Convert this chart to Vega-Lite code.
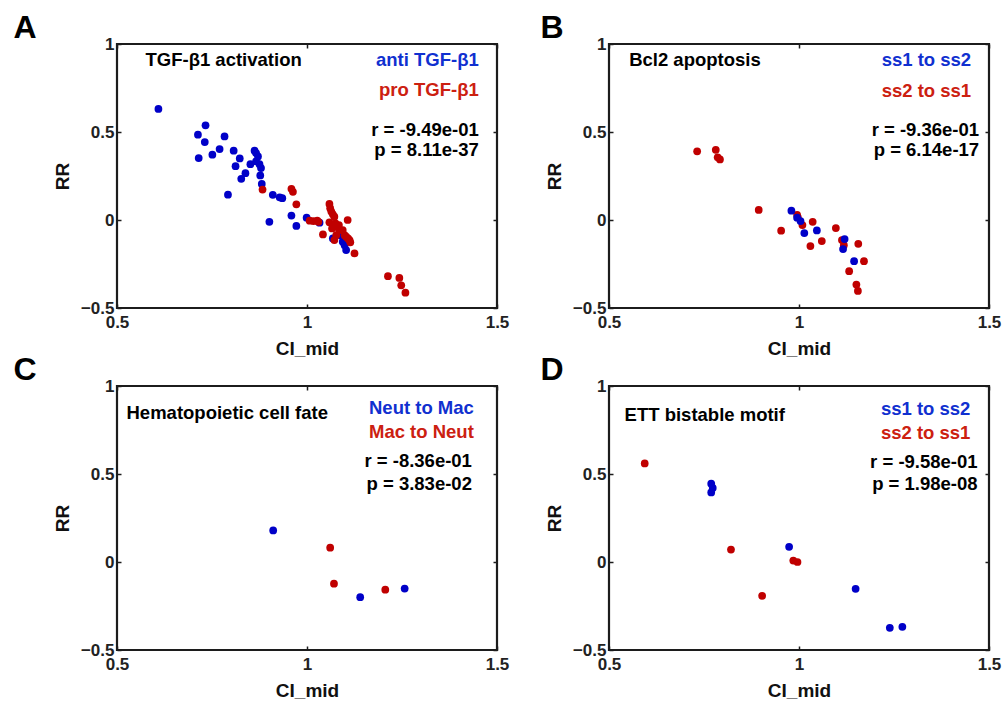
{
  "$schema": "https://vega.github.io/schema/vega-lite/v6.json",
  "padding": {"left": 12, "top": 10, "right": 2, "bottom": 2},
  "background": "white",
  "config": {
    "font": "Liberation Sans",
    "view": {"stroke": "#1c1c1c", "strokeWidth": 2.2},
    "axis": {"domain": false, "grid": false, "tickColor": "#1c1c1c", "tickWidth": 1.5, "tickSize": -4, "format": ".1~f", "labelFont": "Liberation Sans", "labelFontSize": 17, "labelFontWeight": "bold", "labelColor": "#222", "labelFlush": false, "labelOverlap": false, "titleFont": "Liberation Sans", "titleFontSize": 19, "titleFontWeight": "bold", "titleColor": "#111"},
    "axisX": {"labelPadding": 10, "titlePadding": 9},
    "axisY": {"labelPadding": 7, "titlePadding": 8},
    "text": {"font": "Liberation Sans", "fontSize": 18.5, "fontWeight": "bold"},
    "title": {"font": "Liberation Sans", "fontSize": 32, "fontWeight": "bold", "anchor": "start", "frame": "bounds", "color": "#000", "offset": -10}
  },
  "datasets": {
    "one": [{}],
    "pts": [
      {"panel":"A","dir":"anti TGF-β1","ci":0.609,"rr":0.631},
      {"panel":"A","dir":"anti TGF-β1","ci":0.713,"rr":0.485},
      {"panel":"A","dir":"anti TGF-β1","ci":0.733,"rr":0.538},
      {"panel":"A","dir":"anti TGF-β1","ci":0.731,"rr":0.443},
      {"panel":"A","dir":"anti TGF-β1","ci":0.715,"rr":0.352},
      {"panel":"A","dir":"anti TGF-β1","ci":0.751,"rr":0.371},
      {"panel":"A","dir":"anti TGF-β1","ci":0.770,"rr":0.403},
      {"panel":"A","dir":"anti TGF-β1","ci":0.783,"rr":0.475},
      {"panel":"A","dir":"anti TGF-β1","ci":0.807,"rr":0.394},
      {"panel":"A","dir":"anti TGF-β1","ci":0.823,"rr":0.350},
      {"panel":"A","dir":"anti TGF-β1","ci":0.812,"rr":0.306},
      {"panel":"A","dir":"anti TGF-β1","ci":0.792,"rr":0.144},
      {"panel":"A","dir":"anti TGF-β1","ci":0.838,"rr":0.266},
      {"panel":"A","dir":"anti TGF-β1","ci":0.827,"rr":0.234},
      {"panel":"A","dir":"anti TGF-β1","ci":0.851,"rr":0.317},
      {"panel":"A","dir":"anti TGF-β1","ci":0.862,"rr":0.394},
      {"panel":"A","dir":"anti TGF-β1","ci":0.866,"rr":0.380},
      {"panel":"A","dir":"anti TGF-β1","ci":0.871,"rr":0.361},
      {"panel":"A","dir":"anti TGF-β1","ci":0.866,"rr":0.333},
      {"panel":"A","dir":"anti TGF-β1","ci":0.875,"rr":0.317},
      {"panel":"A","dir":"anti TGF-β1","ci":0.879,"rr":0.295},
      {"panel":"A","dir":"anti TGF-β1","ci":0.877,"rr":0.253},
      {"panel":"A","dir":"anti TGF-β1","ci":0.881,"rr":0.205},
      {"panel":"A","dir":"anti TGF-β1","ci":0.910,"rr":0.143},
      {"panel":"A","dir":"anti TGF-β1","ci":0.928,"rr":0.129},
      {"panel":"A","dir":"anti TGF-β1","ci":0.935,"rr":0.124},
      {"panel":"A","dir":"anti TGF-β1","ci":0.901,"rr":-0.010},
      {"panel":"A","dir":"anti TGF-β1","ci":0.959,"rr":0.025},
      {"panel":"A","dir":"anti TGF-β1","ci":0.972,"rr":-0.034},
      {"panel":"A","dir":"anti TGF-β1","ci":0.999,"rr":0.013},
      {"panel":"A","dir":"anti TGF-β1","ci":1.033,"rr":-0.015},
      {"panel":"A","dir":"anti TGF-β1","ci":1.068,"rr":-0.105},
      {"panel":"A","dir":"anti TGF-β1","ci":1.090,"rr":-0.089},
      {"panel":"A","dir":"anti TGF-β1","ci":1.094,"rr":-0.124},
      {"panel":"A","dir":"anti TGF-β1","ci":1.099,"rr":-0.143},
      {"panel":"A","dir":"anti TGF-β1","ci":1.103,"rr":-0.171},
      {"panel":"A","dir":"pro TGF-β1","ci":0.883,"rr":0.173},
      {"panel":"A","dir":"pro TGF-β1","ci":0.959,"rr":0.177},
      {"panel":"A","dir":"pro TGF-β1","ci":0.963,"rr":0.160},
      {"panel":"A","dir":"pro TGF-β1","ci":0.972,"rr":0.089},
      {"panel":"A","dir":"pro TGF-β1","ci":1.007,"rr":-0.004},
      {"panel":"A","dir":"pro TGF-β1","ci":1.017,"rr":-0.006},
      {"panel":"A","dir":"pro TGF-β1","ci":1.027,"rr":-0.004},
      {"panel":"A","dir":"pro TGF-β1","ci":1.030,"rr":-0.010},
      {"panel":"A","dir":"pro TGF-β1","ci":1.042,"rr":-0.082},
      {"panel":"A","dir":"pro TGF-β1","ci":1.059,"rr":0.091},
      {"panel":"A","dir":"pro TGF-β1","ci":1.061,"rr":0.067},
      {"panel":"A","dir":"pro TGF-β1","ci":1.064,"rr":0.048},
      {"panel":"A","dir":"pro TGF-β1","ci":1.068,"rr":0.032},
      {"panel":"A","dir":"pro TGF-β1","ci":1.072,"rr":0.019},
      {"panel":"A","dir":"pro TGF-β1","ci":1.059,"rr":-0.013},
      {"panel":"A","dir":"pro TGF-β1","ci":1.066,"rr":-0.048},
      {"panel":"A","dir":"pro TGF-β1","ci":1.075,"rr":-0.019},
      {"panel":"A","dir":"pro TGF-β1","ci":1.078,"rr":-0.038},
      {"panel":"A","dir":"pro TGF-β1","ci":1.084,"rr":-0.029},
      {"panel":"A","dir":"pro TGF-β1","ci":1.085,"rr":-0.057},
      {"panel":"A","dir":"pro TGF-β1","ci":1.072,"rr":-0.114},
      {"panel":"A","dir":"pro TGF-β1","ci":1.077,"rr":-0.086},
      {"panel":"A","dir":"pro TGF-β1","ci":1.094,"rr":-0.057},
      {"panel":"A","dir":"pro TGF-β1","ci":1.099,"rr":-0.086},
      {"panel":"A","dir":"pro TGF-β1","ci":1.103,"rr":-0.095},
      {"panel":"A","dir":"pro TGF-β1","ci":1.107,"rr":0.000},
      {"panel":"A","dir":"pro TGF-β1","ci":1.112,"rr":-0.114},
      {"panel":"A","dir":"pro TGF-β1","ci":1.114,"rr":-0.127},
      {"panel":"A","dir":"pro TGF-β1","ci":1.108,"rr":-0.105},
      {"panel":"A","dir":"pro TGF-β1","ci":1.125,"rr":-0.190},
      {"panel":"A","dir":"pro TGF-β1","ci":1.213,"rr":-0.319},
      {"panel":"A","dir":"pro TGF-β1","ci":1.243,"rr":-0.329},
      {"panel":"A","dir":"pro TGF-β1","ci":1.248,"rr":-0.371},
      {"panel":"A","dir":"pro TGF-β1","ci":1.259,"rr":-0.413},

      {"panel":"B","dir":"ss2 to ss1","ci":0.732,"rr":0.390},
      {"panel":"B","dir":"ss2 to ss1","ci":0.781,"rr":0.399},
      {"panel":"B","dir":"ss2 to ss1","ci":0.786,"rr":0.356},
      {"panel":"B","dir":"ss2 to ss1","ci":0.792,"rr":0.344},
      {"panel":"B","dir":"ss2 to ss1","ci":0.894,"rr":0.057},
      {"panel":"B","dir":"ss2 to ss1","ci":0.953,"rr":-0.061},
      {"panel":"B","dir":"ss2 to ss1","ci":0.995,"rr":0.029},
      {"panel":"B","dir":"ss2 to ss1","ci":0.997,"rr":0.015},
      {"panel":"B","dir":"ss2 to ss1","ci":1.009,"rr":-0.029},
      {"panel":"B","dir":"ss2 to ss1","ci":1.036,"rr":-0.010},
      {"panel":"B","dir":"ss2 to ss1","ci":1.030,"rr":-0.148},
      {"panel":"B","dir":"ss2 to ss1","ci":1.060,"rr":-0.120},
      {"panel":"B","dir":"ss2 to ss1","ci":1.097,"rr":-0.046},
      {"panel":"B","dir":"ss2 to ss1","ci":1.113,"rr":-0.114},
      {"panel":"B","dir":"ss2 to ss1","ci":1.118,"rr":-0.143},
      {"panel":"B","dir":"ss2 to ss1","ci":1.156,"rr":-0.135},
      {"panel":"B","dir":"ss2 to ss1","ci":1.171,"rr":-0.234},
      {"panel":"B","dir":"ss2 to ss1","ci":1.132,"rr":-0.291},
      {"panel":"B","dir":"ss2 to ss1","ci":1.151,"rr":-0.367},
      {"panel":"B","dir":"ss2 to ss1","ci":1.155,"rr":-0.403},
      {"panel":"B","dir":"ss1 to ss2","ci":0.980,"rr":0.053},
      {"panel":"B","dir":"ss1 to ss2","ci":0.995,"rr":0.013},
      {"panel":"B","dir":"ss1 to ss2","ci":1.004,"rr":-0.006},
      {"panel":"B","dir":"ss1 to ss2","ci":1.014,"rr":-0.074},
      {"panel":"B","dir":"ss1 to ss2","ci":1.047,"rr":-0.059},
      {"panel":"B","dir":"ss1 to ss2","ci":1.120,"rr":-0.108},
      {"panel":"B","dir":"ss1 to ss2","ci":1.116,"rr":-0.165},
      {"panel":"B","dir":"ss1 to ss2","ci":1.145,"rr":-0.234},

      {"panel":"C","dir":"Neut to Mac","ci":0.911,"rr":0.179},
      {"panel":"C","dir":"Neut to Mac","ci":1.140,"rr":-0.200},
      {"panel":"C","dir":"Neut to Mac","ci":1.257,"rr":-0.151},
      {"panel":"C","dir":"Mac to Neut","ci":1.061,"rr":0.081},
      {"panel":"C","dir":"Mac to Neut","ci":1.071,"rr":-0.123},
      {"panel":"C","dir":"Mac to Neut","ci":1.206,"rr":-0.157},

      {"panel":"D","dir":"ss2 to ss1","ci":0.594,"rr":0.560},
      {"panel":"D","dir":"ss2 to ss1","ci":0.821,"rr":0.071},
      {"panel":"D","dir":"ss2 to ss1","ci":0.903,"rr":-0.192},
      {"panel":"D","dir":"ss2 to ss1","ci":0.985,"rr":0.008},
      {"panel":"D","dir":"ss2 to ss1","ci":0.996,"rr":0.000},
      {"panel":"D","dir":"ss1 to ss2","ci":0.769,"rr":0.445},
      {"panel":"D","dir":"ss1 to ss2","ci":0.773,"rr":0.421},
      {"panel":"D","dir":"ss1 to ss2","ci":0.769,"rr":0.395},
      {"panel":"D","dir":"ss1 to ss2","ci":0.974,"rr":0.086},
      {"panel":"D","dir":"ss1 to ss2","ci":1.149,"rr":-0.152},
      {"panel":"D","dir":"ss1 to ss2","ci":1.239,"rr":-0.374},
      {"panel":"D","dir":"ss1 to ss2","ci":1.272,"rr":-0.368}
    ]
  },
  "resolve": {"scale": {"color": "shared"}},
  "spacing": {"row": -8, "column": 29},
  "columns": 2,
  "concat": [
    {
      "width": 380, "height": 264,
      "title": {"text": "A", "dx": -40},
      "resolve": {"axis": {"x": "independent", "y": "independent"}},
      "layer": [
        {
          "data": {"name": "pts"},
          "transform": [{"filter": "datum.panel === 'A'"}],
          "mark": {"type": "circle", "size": 60, "opacity": 1},
          "encoding": {
            "x": {"field": "ci", "type": "quantitative", "scale": {"domain": [0.5, 1.5], "nice": false, "zero": false}, "axis": {"values": [0.5, 1, 1.5], "title": "CI_mid"}},
            "y": {"field": "rr", "type": "quantitative", "scale": {"domain": [-0.5, 1], "nice": false, "zero": false}, "axis": {"values": [-0.5, 0, 0.5, 1], "title": "RR"}},
            "color": {"field": "dir", "type": "nominal", "legend": null, "scale": {"domain": ["anti TGF-β1", "pro TGF-β1", "ss1 to ss2", "ss2 to ss1", "Neut to Mac", "Mac to Neut"], "range": ["#0000C8", "#C00000", "#0000C8", "#C00000", "#0000C8", "#C00000"]}}
          }
        },
        {
          "data": {"name": "pts"},
          "transform": [{"filter": "datum.panel === 'A'"}],
          "mark": {"type": "circle", "opacity": 0},
          "encoding": {
            "x": {"field": "ci", "type": "quantitative", "axis": {"orient": "top", "values": [0.5, 1, 1.5], "labels": false, "title": null}},
            "y": {"field": "rr", "type": "quantitative", "axis": {"orient": "right", "values": [-0.5, 0, 0.5, 1], "labels": false, "title": null}}
          }
        },
        {"data": {"name": "one"}, "mark": {"type": "text", "align": "left", "color": "#000"}, "encoding": {"x": {"datum": 0.575, "axis": null}, "y": {"datum": 0.907, "axis": null}, "text": {"value": "TGF-β1 activation"}}},
        {"data": {"name": "one"}, "mark": {"type": "text", "align": "right", "color": "#1030D0"}, "encoding": {"x": {"datum": 1.452, "axis": null}, "y": {"datum": 0.907, "axis": null}, "text": {"value": "anti TGF-β1"}}},
        {"data": {"name": "one"}, "mark": {"type": "text", "align": "right", "color": "#CC2010"}, "encoding": {"x": {"datum": 1.452, "axis": null}, "y": {"datum": 0.736, "axis": null}, "text": {"value": "pro TGF-β1"}}},
        {"data": {"name": "one"}, "mark": {"type": "text", "align": "right", "color": "#000"}, "encoding": {"x": {"datum": 1.452, "axis": null}, "y": {"datum": 0.513, "axis": null}, "text": {"value": "r = -9.49e-01"}}},
        {"data": {"name": "one"}, "mark": {"type": "text", "align": "right", "color": "#000"}, "encoding": {"x": {"datum": 1.452, "axis": null}, "y": {"datum": 0.399, "axis": null}, "text": {"value": "p = 8.11e-37"}}}
      ]
    },
    {
      "width": 380, "height": 264,
      "title": {"text": "B", "dx": -5},
      "resolve": {"axis": {"x": "independent", "y": "independent"}},
      "layer": [
        {
          "data": {"name": "pts"},
          "transform": [{"filter": "datum.panel === 'B'"}],
          "mark": {"type": "circle", "size": 60, "opacity": 1},
          "encoding": {
            "x": {"field": "ci", "type": "quantitative", "scale": {"domain": [0.5, 1.5], "nice": false, "zero": false}, "axis": {"values": [0.5, 1, 1.5], "title": "CI_mid"}},
            "y": {"field": "rr", "type": "quantitative", "scale": {"domain": [-0.5, 1], "nice": false, "zero": false}, "axis": {"values": [-0.5, 0, 0.5, 1], "title": "RR"}},
            "color": {"field": "dir", "type": "nominal", "legend": null}
          }
        },
        {
          "data": {"name": "pts"},
          "transform": [{"filter": "datum.panel === 'B'"}],
          "mark": {"type": "circle", "opacity": 0},
          "encoding": {
            "x": {"field": "ci", "type": "quantitative", "axis": {"orient": "top", "values": [0.5, 1, 1.5], "labels": false, "title": null}},
            "y": {"field": "rr", "type": "quantitative", "axis": {"orient": "right", "values": [-0.5, 0, 0.5, 1], "labels": false, "title": null}}
          }
        },
        {"data": {"name": "one"}, "mark": {"type": "text", "align": "left", "color": "#000"}, "encoding": {"x": {"datum": 0.553, "axis": null}, "y": {"datum": 0.907, "axis": null}, "text": {"value": "Bcl2 apoptosis"}}},
        {"data": {"name": "one"}, "mark": {"type": "text", "align": "right", "color": "#1030D0"}, "encoding": {"x": {"datum": 1.453, "axis": null}, "y": {"datum": 0.907, "axis": null}, "text": {"value": "ss1 to ss2"}}},
        {"data": {"name": "one"}, "mark": {"type": "text", "align": "right", "color": "#CC2010"}, "encoding": {"x": {"datum": 1.453, "axis": null}, "y": {"datum": 0.732, "axis": null}, "text": {"value": "ss2 to ss1"}}},
        {"data": {"name": "one"}, "mark": {"type": "text", "align": "right", "color": "#000"}, "encoding": {"x": {"datum": 1.474, "axis": null}, "y": {"datum": 0.513, "axis": null}, "text": {"value": "r = -9.36e-01"}}},
        {"data": {"name": "one"}, "mark": {"type": "text", "align": "right", "color": "#000"}, "encoding": {"x": {"datum": 1.474, "axis": null}, "y": {"datum": 0.399, "axis": null}, "text": {"value": "p = 6.14e-17"}}}
      ]
    },
    {
      "width": 380, "height": 264,
      "title": {"text": "C", "dx": -40},
      "resolve": {"axis": {"x": "independent", "y": "independent"}},
      "layer": [
        {
          "data": {"name": "pts"},
          "transform": [{"filter": "datum.panel === 'C'"}],
          "mark": {"type": "circle", "size": 60, "opacity": 1},
          "encoding": {
            "x": {"field": "ci", "type": "quantitative", "scale": {"domain": [0.5, 1.5], "nice": false, "zero": false}, "axis": {"values": [0.5, 1, 1.5], "title": "CI_mid"}},
            "y": {"field": "rr", "type": "quantitative", "scale": {"domain": [-0.5, 1], "nice": false, "zero": false}, "axis": {"values": [-0.5, 0, 0.5, 1], "title": "RR"}},
            "color": {"field": "dir", "type": "nominal", "legend": null}
          }
        },
        {
          "data": {"name": "pts"},
          "transform": [{"filter": "datum.panel === 'C'"}],
          "mark": {"type": "circle", "opacity": 0},
          "encoding": {
            "x": {"field": "ci", "type": "quantitative", "axis": {"orient": "top", "values": [0.5, 1, 1.5], "labels": false, "title": null}},
            "y": {"field": "rr", "type": "quantitative", "axis": {"orient": "right", "values": [-0.5, 0, 0.5, 1], "labels": false, "title": null}}
          }
        },
        {"data": {"name": "one"}, "mark": {"type": "text", "align": "left", "color": "#000"}, "encoding": {"x": {"datum": 0.525, "axis": null}, "y": {"datum": 0.845, "axis": null}, "text": {"value": "Hematopoietic cell fate"}}},
        {"data": {"name": "one"}, "mark": {"type": "text", "align": "right", "color": "#1030D0"}, "encoding": {"x": {"datum": 1.439, "axis": null}, "y": {"datum": 0.877, "axis": null}, "text": {"value": "Neut to Mac"}}},
        {"data": {"name": "one"}, "mark": {"type": "text", "align": "right", "color": "#CC2010"}, "encoding": {"x": {"datum": 1.439, "axis": null}, "y": {"datum": 0.736, "axis": null}, "text": {"value": "Mac to Neut"}}},
        {"data": {"name": "one"}, "mark": {"type": "text", "align": "right", "color": "#000"}, "encoding": {"x": {"datum": 1.434, "axis": null}, "y": {"datum": 0.572, "axis": null}, "text": {"value": "r = -8.36e-01"}}},
        {"data": {"name": "one"}, "mark": {"type": "text", "align": "right", "color": "#000"}, "encoding": {"x": {"datum": 1.434, "axis": null}, "y": {"datum": 0.445, "axis": null}, "text": {"value": "p = 3.83e-02"}}}
      ]
    },
    {
      "width": 380, "height": 264,
      "title": {"text": "D", "dx": -5},
      "resolve": {"axis": {"x": "independent", "y": "independent"}},
      "layer": [
        {
          "data": {"name": "pts"},
          "transform": [{"filter": "datum.panel === 'D'"}],
          "mark": {"type": "circle", "size": 60, "opacity": 1},
          "encoding": {
            "x": {"field": "ci", "type": "quantitative", "scale": {"domain": [0.5, 1.5], "nice": false, "zero": false}, "axis": {"values": [0.5, 1, 1.5], "title": "CI_mid"}},
            "y": {"field": "rr", "type": "quantitative", "scale": {"domain": [-0.5, 1], "nice": false, "zero": false}, "axis": {"values": [-0.5, 0, 0.5, 1], "title": "RR"}},
            "color": {"field": "dir", "type": "nominal", "legend": null}
          }
        },
        {
          "data": {"name": "pts"},
          "transform": [{"filter": "datum.panel === 'D'"}],
          "mark": {"type": "circle", "opacity": 0},
          "encoding": {
            "x": {"field": "ci", "type": "quantitative", "axis": {"orient": "top", "values": [0.5, 1, 1.5], "labels": false, "title": null}},
            "y": {"field": "rr", "type": "quantitative", "axis": {"orient": "right", "values": [-0.5, 0, 0.5, 1], "labels": false, "title": null}}
          }
        },
        {"data": {"name": "one"}, "mark": {"type": "text", "align": "left", "color": "#000"}, "encoding": {"x": {"datum": 0.541, "axis": null}, "y": {"datum": 0.838, "axis": null}, "text": {"value": "ETT bistable motif"}}},
        {"data": {"name": "one"}, "mark": {"type": "text", "align": "right", "color": "#1030D0"}, "encoding": {"x": {"datum": 1.451, "axis": null}, "y": {"datum": 0.872, "axis": null}, "text": {"value": "ss1 to ss2"}}},
        {"data": {"name": "one"}, "mark": {"type": "text", "align": "right", "color": "#CC2010"}, "encoding": {"x": {"datum": 1.451, "axis": null}, "y": {"datum": 0.735, "axis": null}, "text": {"value": "ss2 to ss1"}}},
        {"data": {"name": "one"}, "mark": {"type": "text", "align": "right", "color": "#000"}, "encoding": {"x": {"datum": 1.470, "axis": null}, "y": {"datum": 0.571, "axis": null}, "text": {"value": "r = -9.58e-01"}}},
        {"data": {"name": "one"}, "mark": {"type": "text", "align": "right", "color": "#000"}, "encoding": {"x": {"datum": 1.470, "axis": null}, "y": {"datum": 0.445, "axis": null}, "text": {"value": "p = 1.98e-08"}}}
      ]
    }
  ]
}
